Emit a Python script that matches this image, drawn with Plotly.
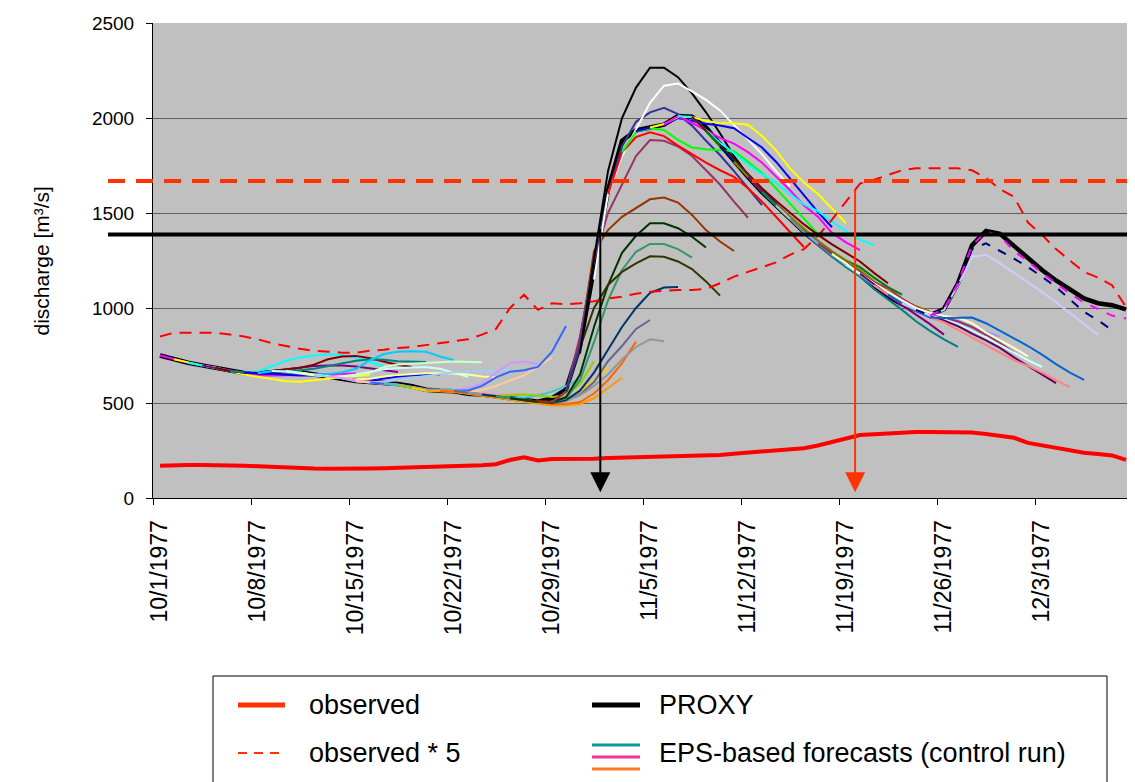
import datetime as dt
import plotly.graph_objects as go

# ---------------- data ----------------
start_date = dt.date(1977, 10, 1)
N_DAYS = 70
dates = [start_date + dt.timedelta(days=i) for i in range(N_DAYS)]
date_labels = [f"{d.month}/{d.day}/{d.year}" for d in dates]
day_index = list(range(N_DAYS))
label_days = [0, 7, 14, 21, 28, 35, 42, 49, 56, 63]

observed = [170, 174, 174, 174, 174, 172, 170, 167, 163, 160,
            157, 155, 154, 153, 153, 155, 156, 158, 159, 161,
            163, 165, 167, 172, 178, 200, 214, 198, 205, 204,
            205, 207, 210, 212, 215, 217, 218, 219, 219, 220,
            226, 233, 238, 243, 248, 256, 262, 276, 293, 312,
            331, 335, 340, 345, 347, 347, 347, 347, 345, 337,
            325, 317, 290, 277, 262, 250, 238, 232, 224, 201]
observed_x5 = [v * 5 for v in observed]   # "observed * 5"

proxy = [750, 730, 712, 698, 685, 668, 658, 655, 664, 668,
         662, 650, 640, 628, 616, 610, 605, 600, 588, 570,
         564, 562, 548, 545, 535, 525, 515, 507, 525, 570,
         800, 1220, 1620, 1880, 1935, 1950, 1965, 2010, 2007, 1950,
         1860, 1775, 1690, 1610, 1540, 1470, 1400, 1340, 1280, 1230,
         1180, 1110, 1060, 1020, 990, 962, 995, 1130, 1330, 1405,
         1390, 1325, 1262, 1200, 1145, 1095, 1050, 1025, 1015, 993]

THRESH_OBS5 = 1668    # red dashed threshold
THRESH_PROXY = 1387   # black threshold
ARROW_PROXY_DAY, ARROW_PROXY_FROM = 31.45, 1425
ARROW_OBS_DAY, ARROW_OBS_FROM = 49.65, 1630

# EPS-based forecasts: first day index of each run and its values
eps_start_day = [0, 0, 1, 2, 3, 4, 5, 6, 7, 8,
                 9, 10, 11, 12, 13, 14, 15, 16, 17, 18,
                 19, 20, 21, 22, 23, 24, 25, 26, 27, 28,
                 29, 30, 31, 32, 33, 34, 35, 36, 37, 38,
                 39, 40, 41, 42, 43, 44, 45, 46, 47, 48,
                 49, 50, 51, 52, 53, 54, 55]
eps_00 = [750, 730, 712, 698, 685, 668, 660, 655, 665, 668, 660, 650, 642, 635]
eps_01 = [750, 730, 712, 698, 685, 668, 655, 645, 645, 645, 648, 650, 652, 655, 655]
eps_02 = [730, 712, 698, 685, 668, 650, 638, 625, 615, 612, 620, 630, 636, 642, 647]
eps_03 = [712, 698, 685, 668, 660, 665, 695, 722, 740, 750, 756, 752, 738, 715, 692]
eps_04 = [698, 685, 668, 660, 658, 668, 678, 688, 695, 697, 697, 692, 683, 672, 663]
eps_05 = [685, 668, 660, 658, 668, 678, 686, 702, 730, 745, 748, 735, 718, 700, 690]
eps_06 = [668, 660, 656, 666, 668, 672, 680, 693, 708, 722, 730, 728, 720, 717, 716]
eps_07 = [660, 656, 650, 648, 645, 645, 642, 630, 618, 618, 630, 640, 646, 650, 650]
eps_08 = [656, 668, 668, 660, 650, 652, 662, 680, 725, 758, 770, 772, 770, 745, 725]
eps_09 = [668, 665, 655, 645, 640, 640, 650, 665, 678, 684, 688, 690, 680, 660, 638]
eps_10 = [670, 660, 650, 640, 638, 645, 660, 690, 702, 707, 712, 715, 718, 718, 715]
eps_11 = [660, 648, 640, 630, 622, 628, 640, 648, 652, 656, 656, 655, 650, 640, 635]
eps_12 = [648, 640, 630, 615, 610, 612, 622, 632, 642, 652, 662, 665, 665, 668, 674]
eps_13 = [640, 632, 618, 610, 605, 598, 585, 572, 570, 570, 562, 555, 548, 545, 543]
eps_14 = [630, 615, 608, 603, 595, 582, 568, 566, 566, 580, 602, 660, 710, 718, 705]
eps_15 = [615, 608, 603, 595, 582, 566, 566, 560, 555, 568, 590, 618, 645, 690, 740]
eps_16 = [608, 603, 595, 582, 568, 566, 566, 566, 590, 635, 665, 672, 690, 770, 905]
eps_17 = [603, 595, 582, 568, 566, 566, 556, 545, 535, 530, 528, 540, 560, 590, 625]
eps_18 = [595, 582, 565, 565, 563, 555, 545, 538, 542, 545, 540, 532, 540, 600, 720]
eps_19 = [582, 565, 563, 560, 550, 540, 530, 522, 515, 508, 505, 520, 560, 620, 690]
eps_20 = [565, 563, 558, 548, 538, 528, 518, 505, 495, 487, 487, 495, 525, 580, 633]
eps_21 = [563, 560, 552, 542, 532, 522, 512, 503, 495, 495, 505, 550, 620, 710, 823]
eps_22 = [565, 555, 545, 535, 525, 515, 505, 500, 510, 545, 610, 720, 800, 890, 937]
eps_23 = [555, 545, 535, 525, 515, 507, 500, 510, 540, 590, 650, 730, 795, 835, 825]
eps_24 = [545, 535, 525, 515, 507, 500, 515, 565, 660, 780, 900, 1000, 1080, 1108, 1110]
eps_25 = [535, 525, 515, 507, 505, 525, 620, 820, 1040, 1200, 1296, 1337, 1337, 1310, 1265]
eps_26 = [525, 515, 507, 505, 530, 650, 900, 1120, 1290, 1380, 1446, 1446, 1420, 1375, 1318]
eps_27 = [515, 507, 505, 560, 790, 1000, 1121, 1190, 1235, 1272, 1270, 1245, 1205, 1140, 1065]
eps_28 = [507, 505, 560, 820, 1300, 1410, 1480, 1524, 1572, 1581, 1555, 1490, 1410, 1350, 1300]
eps_29 = [505, 560, 850, 1250, 1500, 1650, 1800, 1884, 1880, 1850, 1800, 1725, 1650, 1560, 1475]
eps_30 = [560, 800, 1250, 1600, 1850, 1980, 2030, 2054, 2020, 1960, 1880, 1805, 1720, 1630, 1542]
eps_31 = [760, 1260, 1720, 2000, 2160, 2265, 2265, 2215, 2130, 2030, 1920, 1800, 1700, 1620, 1550]
eps_32 = [1150, 1600, 1800, 1940, 2080, 2170, 2182, 2140, 2095, 2040, 1965, 1890, 1810, 1720, 1640]
eps_33 = [1600, 1820, 1900, 1925, 1905, 1855, 1810, 1765, 1725, 1690, 1630, 1560, 1480, 1400, 1320]
eps_34 = [1820, 1928, 1946, 1937, 1885, 1845, 1835, 1830, 1825, 1770, 1710, 1630, 1550, 1470, 1390]
eps_35 = [1930, 1950, 1965, 2000, 1985, 1970, 1960, 1946, 1895, 1845, 1770, 1680, 1590, 1505, 1425]
eps_36 = [1950, 1968, 2005, 2005, 1985, 1972, 1972, 1965, 1905, 1830, 1735, 1660, 1600, 1525, 1446]
eps_37 = [1965, 2010, 1975, 1935, 1895, 1865, 1820, 1765, 1695, 1620, 1540, 1480, 1395, 1345, 1305]
eps_38 = [2010, 2005, 1935, 1870, 1815, 1755, 1705, 1660, 1600, 1545, 1510, 1455, 1405, 1360, 1330]
eps_39 = [2007, 1930, 1855, 1780, 1705, 1630, 1565, 1500, 1440, 1385, 1335, 1290, 1245, 1185, 1130]
eps_40 = [1930, 1850, 1770, 1690, 1615, 1545, 1475, 1410, 1350, 1295, 1250, 1215, 1160, 1110, 1070]
eps_41 = [1850, 1770, 1690, 1610, 1540, 1470, 1400, 1340, 1280, 1230, 1180, 1115, 1065, 1025, 995]
eps_42 = [1770, 1690, 1610, 1545, 1480, 1415, 1355, 1300, 1250, 1200, 1140, 1090, 1045, 1010, 980]
eps_43 = [1690, 1610, 1540, 1470, 1400, 1340, 1280, 1225, 1180, 1120, 1065, 1015, 965, 915, 860]
eps_44 = [1610, 1535, 1465, 1395, 1330, 1270, 1215, 1165, 1100, 1045, 990, 930, 880, 835, 795]
eps_45 = [1540, 1470, 1400, 1340, 1280, 1225, 1175, 1120, 1070, 1025, 985, 950, 920, 890, 860]
eps_46 = [1470, 1400, 1340, 1280, 1230, 1180, 1125, 1075, 1030, 990, 955, 930, 905, 880, 850]
eps_47 = [1400, 1340, 1280, 1230, 1180, 1125, 1075, 1030, 995, 965, 945, 925, 900, 875, 850]
eps_48 = [1340, 1285, 1235, 1185, 1135, 1105, 1050, 1005, 975, 950, 930, 900, 860, 815, 765]
eps_49 = [1285, 1235, 1180, 1130, 1085, 1040, 1000, 975, 958, 950, 920, 870, 830, 790, 745]
eps_50 = [1230, 1180, 1125, 1075, 1030, 990, 960, 940, 915, 880, 845, 805, 765, 725, 690]
eps_51 = [1180, 1125, 1070, 1025, 985, 955, 935, 905, 865, 830, 790, 740, 695, 650, 605]
eps_52 = [1120, 1070, 1025, 985, 950, 925, 885, 845, 805, 765, 725, 695, 660, 620, 583]
eps_53 = [1070, 1025, 985, 950, 948, 950, 950, 920, 880, 840, 800, 755, 705, 660, 622]
eps_54 = [1025, 990, 960, 990, 1120, 1270, 1280, 1235, 1185, 1135, 1085, 1030, 970, 915, 860]
eps_55 = [990, 960, 990, 1130, 1310, 1340, 1300, 1260, 1215, 1165, 1110, 1045, 980, 935, 884]
eps_56 = [960, 995, 1130, 1330, 1402, 1380, 1300, 1245, 1185, 1130, 1075, 1030, 995, 960, 945]

eps_runs = [eps_00, eps_01, eps_02, eps_03, eps_04, eps_05, eps_06, eps_07, eps_08, eps_09,
            eps_10, eps_11, eps_12, eps_13, eps_14, eps_15, eps_16, eps_17, eps_18, eps_19,
            eps_20, eps_21, eps_22, eps_23, eps_24, eps_25, eps_26, eps_27, eps_28, eps_29,
            eps_30, eps_31, eps_32, eps_33, eps_34, eps_35, eps_36, eps_37, eps_38, eps_39,
            eps_40, eps_41, eps_42, eps_43, eps_44, eps_45, eps_46, eps_47, eps_48, eps_49,
            eps_50, eps_51, eps_52, eps_53, eps_54, eps_55, eps_56]

# ---------------- style ----------------
EPS_COLORS = ["#000080", "#FF00FF", "#FFFF00", "#00FFFF", "#800080", "#800000", "#008080", "#0000FF",
              "#00CCFF", "#CCFFFF", "#CCFFCC", "#FFFF99", "#99CCFF", "#FF99CC", "#CC99FF", "#FFCC99",
              "#3366FF", "#33CCCC", "#99CC00", "#FFCC00", "#FF9900", "#FF6600", "#666699", "#969696",
              "#003366", "#339966", "#003300", "#333300", "#993300", "#993366", "#333399", "#000000",
              "#FFFFFF", "#FF0000", "#00FF00", "#0000FF", "#FFFF00", "#FF00FF", "#00FFFF", "#800000",
              "#008000", "#000080", "#808000", "#800080", "#008080", "#C0C0C0", "#808080", "#9999FF",
              "#993366", "#FFFFCC", "#CCFFFF", "#660066", "#FF8080", "#0066CC", "#CCCCFF", "#000080",
              "#FF00FF"]
EPS_DASH = ["solid"] * 55 + ["dash", "dash"]
FONT = "Liberation Sans, Arial, sans-serif"

# the page body adds an 8px offset; figure sized to the visible window area
OFF = 8
W, H = 1135 - OFF, 782 - OFF
L, T = 153 - OFF, 23 - OFF
PW, PH = 980, 475
R, B = W - L - PW, H - T - PH


def px_x(px):
    """screen pixel x -> paper coordinate"""
    return (px - OFF - L) / PW


def px_y(py):
    """screen pixel y -> paper coordinate"""
    return (T + PH - (py - OFF)) / PH


fig = go.Figure()

fig.add_trace(go.Scatter(x=day_index, y=proxy, mode="lines", name="PROXY",
                         line=dict(color="black", width=4.5), hoverinfo="skip"))

for start, vals, col, dash in zip(eps_start_day, eps_runs, EPS_COLORS, EPS_DASH):
    xs = day_index[start:start + len(vals)]
    fig.add_trace(go.Scatter(x=xs, y=vals, mode="lines",
                             line=dict(color=col, width=2, dash=dash),
                             showlegend=False, hoverinfo="skip"))

fig.add_trace(go.Scatter(x=day_index, y=observed, mode="lines", name="observed",
                         line=dict(color="#FF0000", width=4), hoverinfo="skip"))
fig.add_trace(go.Scatter(x=day_index, y=observed_x5, mode="lines", name="observed * 5",
                         line=dict(color="#FF0000", width=2, dash="12px,8px"), hoverinfo="skip"))

shapes = [
    dict(type="line", xref="paper", yref="y", x0=px_x(108), x1=1.01, y0=THRESH_OBS5, y1=THRESH_OBS5,
         line=dict(color="#FF3300", width=4, dash="17px,11px"), layer="above"),
    dict(type="line", xref="paper", yref="y", x0=px_x(108), x1=1.01, y0=THRESH_PROXY, y1=THRESH_PROXY,
         line=dict(color="black", width=4), layer="above"),
    # legend box
    dict(type="rect", xref="paper", yref="paper", x0=px_x(213), x1=px_x(1107),
         y0=px_y(800), y1=px_y(676), line=dict(color="black", width=1), fillcolor="white", layer="above"),
    dict(type="line", xref="paper", yref="paper", x0=px_x(238), x1=px_x(285), y0=px_y(705), y1=px_y(705),
         line=dict(color="#FF3300", width=5)),
    dict(type="line", xref="paper", yref="paper", x0=px_x(592), x1=px_x(640), y0=px_y(705), y1=px_y(705),
         line=dict(color="black", width=5)),
    dict(type="line", xref="paper", yref="paper", x0=px_x(238), x1=px_x(285), y0=px_y(753), y1=px_y(753),
         line=dict(color="#FF3300", width=2, dash="9px,7px")),
    dict(type="line", xref="paper", yref="paper", x0=px_x(592), x1=px_x(640), y0=px_y(745), y1=px_y(745),
         line=dict(color="#119999", width=3)),
    dict(type="line", xref="paper", yref="paper", x0=px_x(592), x1=px_x(640), y0=px_y(757), y1=px_y(757),
         line=dict(color="#EE3399", width=3)),
    dict(type="line", xref="paper", yref="paper", x0=px_x(592), x1=px_x(640), y0=px_y(769), y1=px_y(769),
         line=dict(color="#FF7722", width=3)),
]

annotations = [
    dict(x=ARROW_PROXY_DAY, y=30, ax=ARROW_PROXY_DAY, ay=ARROW_PROXY_FROM, xref="x", yref="y",
         axref="x", ayref="y", text="", showarrow=True, arrowhead=2, arrowsize=2.0,
         arrowwidth=2, arrowcolor="black"),
    dict(x=ARROW_OBS_DAY, y=30, ax=ARROW_OBS_DAY, ay=ARROW_OBS_FROM, xref="x", yref="y",
         axref="x", ayref="y", text="", showarrow=True, arrowhead=2, arrowsize=2.0,
         arrowwidth=2, arrowcolor="#FF3300"),
    dict(x=px_x(27), y=px_y(261), xref="paper", yref="paper", text="discharge [m³/s]",
         textangle=-90, showarrow=False, font=dict(size=21, family=FONT, color="black")),
]
legend_texts = [("observed", 307, 705), ("PROXY", 657, 705),
                ("observed * 5", 307, 753), ("EPS-based forecasts (control run)", 657, 753)]
for txt, x, y in legend_texts:
    annotations.append(dict(x=px_x(x), y=px_y(y), xref="paper", yref="paper", text=txt,
                            xanchor="left", yanchor="middle", showarrow=False,
                            font=dict(size=27, family=FONT, color="black")))

fig.update_layout(
    width=W, height=H, margin=dict(l=L, r=R, t=T, b=B, autoexpand=False),
    paper_bgcolor="white", plot_bgcolor="#C0C0C0",
    showlegend=False, shapes=shapes, annotations=annotations,
    font=dict(family=FONT, color="black"),
    xaxis=dict(range=[-0.5, 69.5], tickmode="array", tickvals=label_days,
               ticktext=[date_labels[i] for i in label_days], tickangle=-90,
               ticks="outside", ticklen=12, tickcolor="rgba(0,0,0,0)",
               tickfont=dict(size=23, family=FONT, color="black"), automargin=False,
               showgrid=False, zeroline=False, showline=True, linecolor="black", linewidth=1,
               minor=dict(tickmode="array", tickvals=[d - 0.5 for d in label_days],
                          ticks="outside", ticklen=6, tickcolor="black", showgrid=False)),
    yaxis=dict(range=[0, 2500], tickmode="array", tickvals=[0, 500, 1000, 1500, 2000, 2500],
               ticks="outside", ticklen=6, tickcolor="black", ticklabelstandoff=8,
               tickfont=dict(size=19, family=FONT, color="black"), automargin=False,
               showgrid=True, gridcolor="#606060", gridwidth=1, zeroline=False,
               showline=True, linecolor="black", linewidth=1),
)

fig.write_html("out.html")
